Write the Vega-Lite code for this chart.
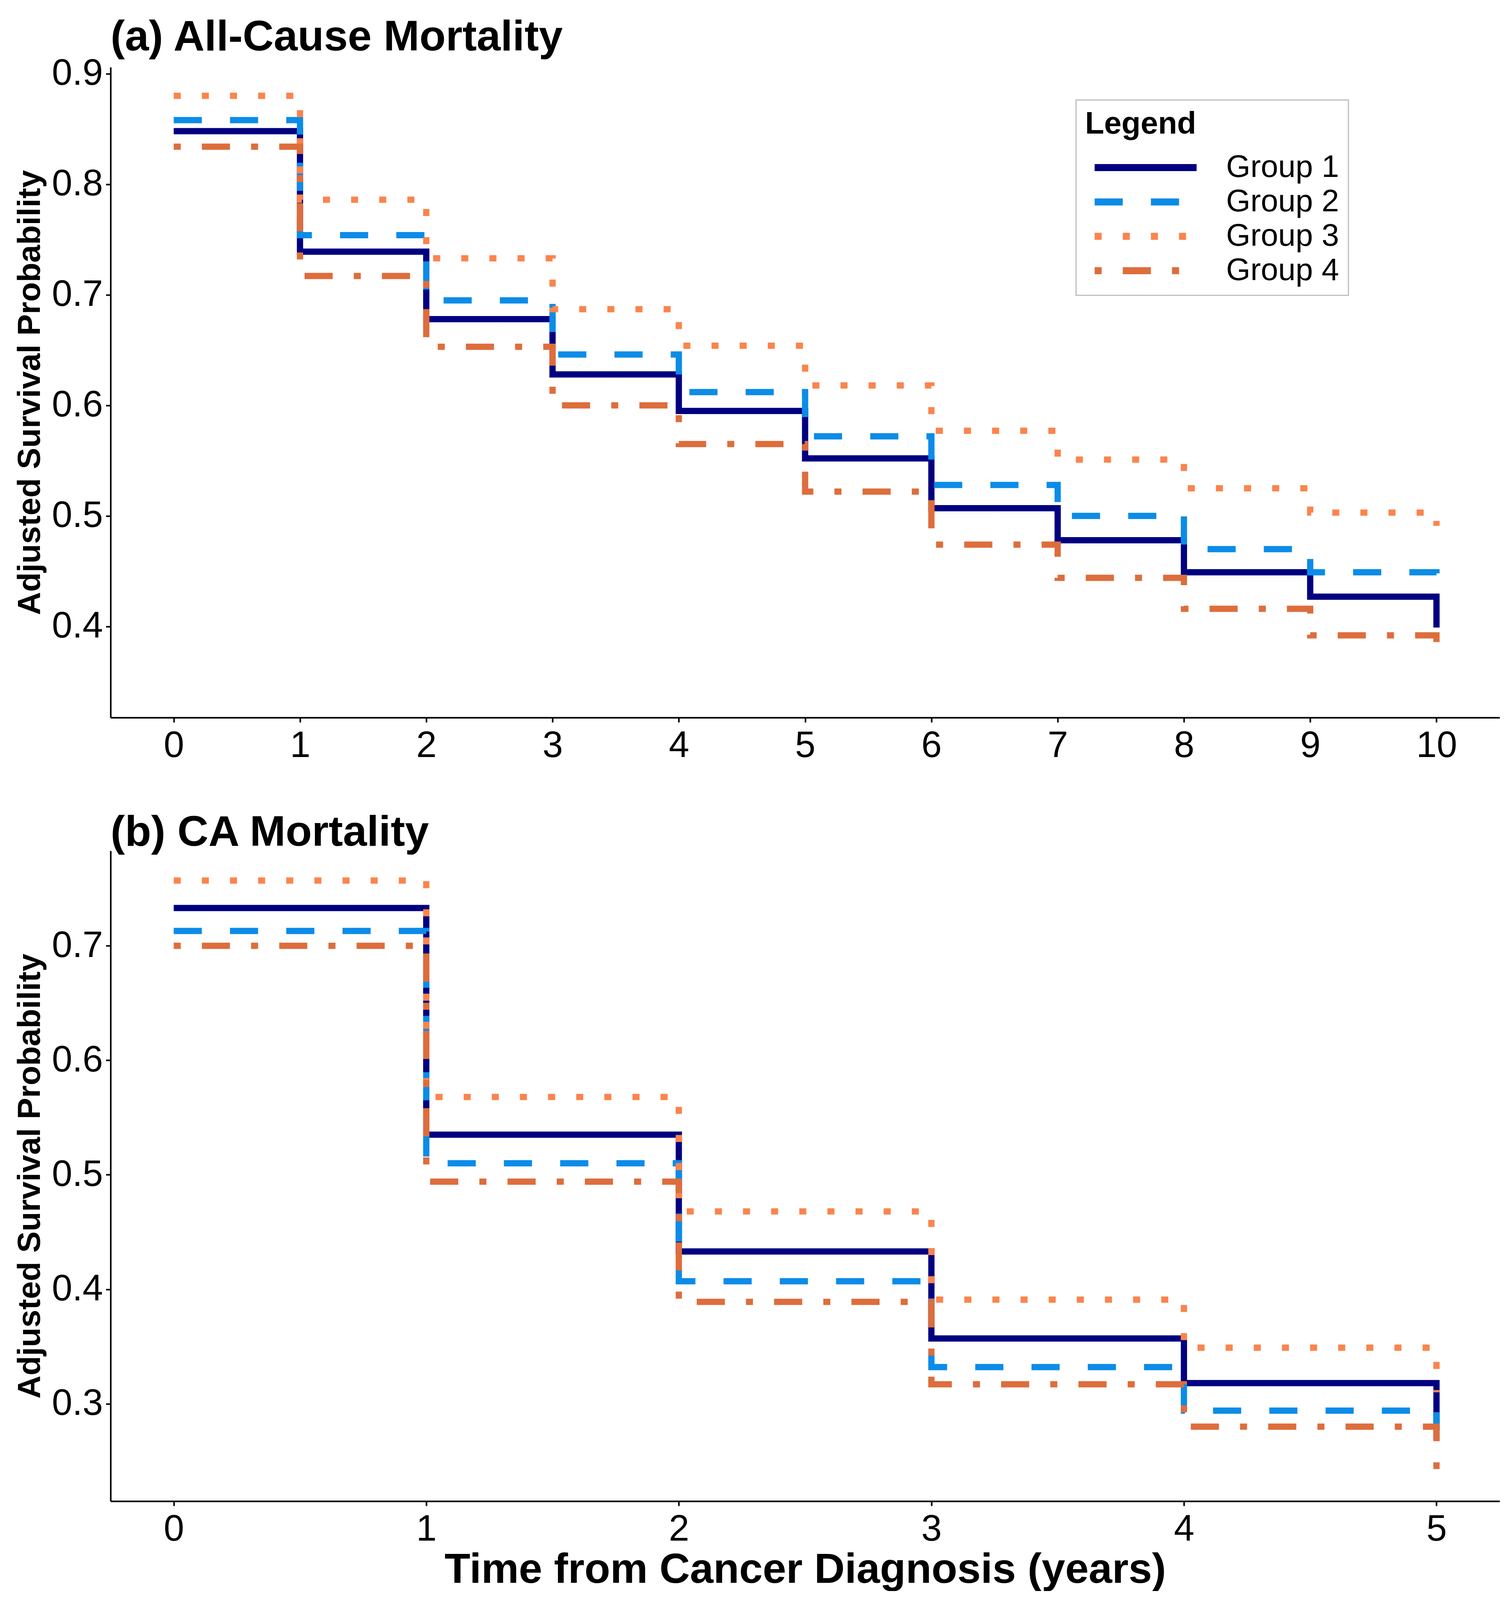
{
  "$schema": "https://vega.github.io/schema/vega-lite/v6.json",
  "background": "white",
  "padding": {"left": 35, "top": 40, "right": 10, "bottom": 0},
  "config": {
    "view": {"stroke": null},
    "font": "Liberation Sans",
    "axis": {"domainColor": "black", "domainWidth": 4, "tickColor": "black", "tickWidth": 4, "tickSize": 12, "grid": false, "labelColor": "black", "labelFont": "Liberation Sans", "labelFontSize": 94, "titleFont": "Liberation Sans", "titleFontSize": 82, "titleFontWeight": "bold", "titleColor": "black"},
    "axisX": {"labelPadding": 14, "titleFontSize": 108, "titlePadding": 4},
    "axisY": {"labelPadding": 8, "titlePadding": 14},
    "title": {"font": "Liberation Sans", "fontSize": 110, "fontWeight": "bold", "anchor": "start", "color": "black", "offset": -10, "frame": "group"}
  },
  "spacing": 121,
  "resolve": {"scale": {"x": "independent", "y": "independent"}, "legend": {"color": "independent", "strokeDash": "independent"}},
  "vconcat": [
    {
      "width": 3555,
      "height": 1665,
      "title": "(a) All-Cause Mortality",
      "data": {"values": [
        {"group": "Group 1", "time": 0, "surv": 0.848}, {"group": "Group 1", "time": 1, "surv": 0.739}, {"group": "Group 1", "time": 2, "surv": 0.678}, {"group": "Group 1", "time": 3, "surv": 0.628}, {"group": "Group 1", "time": 4, "surv": 0.595}, {"group": "Group 1", "time": 5, "surv": 0.552}, {"group": "Group 1", "time": 6, "surv": 0.507}, {"group": "Group 1", "time": 7, "surv": 0.478}, {"group": "Group 1", "time": 8, "surv": 0.449}, {"group": "Group 1", "time": 9, "surv": 0.427}, {"group": "Group 1", "time": 10, "surv": 0.399},
        {"group": "Group 2", "time": 0, "surv": 0.858}, {"group": "Group 2", "time": 1, "surv": 0.754}, {"group": "Group 2", "time": 2, "surv": 0.695}, {"group": "Group 2", "time": 3, "surv": 0.646}, {"group": "Group 2", "time": 4, "surv": 0.612}, {"group": "Group 2", "time": 5, "surv": 0.572}, {"group": "Group 2", "time": 6, "surv": 0.528}, {"group": "Group 2", "time": 7, "surv": 0.500}, {"group": "Group 2", "time": 8, "surv": 0.470}, {"group": "Group 2", "time": 9, "surv": 0.449}, {"group": "Group 2", "time": 10, "surv": 0.425},
        {"group": "Group 3", "time": 0, "surv": 0.880}, {"group": "Group 3", "time": 1, "surv": 0.786}, {"group": "Group 3", "time": 2, "surv": 0.733}, {"group": "Group 3", "time": 3, "surv": 0.687}, {"group": "Group 3", "time": 4, "surv": 0.654}, {"group": "Group 3", "time": 5, "surv": 0.618}, {"group": "Group 3", "time": 6, "surv": 0.577}, {"group": "Group 3", "time": 7, "surv": 0.551}, {"group": "Group 3", "time": 8, "surv": 0.525}, {"group": "Group 3", "time": 9, "surv": 0.503}, {"group": "Group 3", "time": 10, "surv": 0.491},
        {"group": "Group 4", "time": 0, "surv": 0.834}, {"group": "Group 4", "time": 1, "surv": 0.717}, {"group": "Group 4", "time": 2, "surv": 0.653}, {"group": "Group 4", "time": 3, "surv": 0.600}, {"group": "Group 4", "time": 4, "surv": 0.565}, {"group": "Group 4", "time": 5, "surv": 0.522}, {"group": "Group 4", "time": 6, "surv": 0.474}, {"group": "Group 4", "time": 7, "surv": 0.444}, {"group": "Group 4", "time": 8, "surv": 0.416}, {"group": "Group 4", "time": 9, "surv": 0.392}, {"group": "Group 4", "time": 10, "surv": 0.3675}
      ]},
      "mark": {"type": "line", "interpolate": "step-after", "strokeWidth": 16, "strokeCap": "butt"},
      "encoding": {
        "x": {"field": "time", "type": "quantitative", "scale": {"domain": [-0.5, 10.5], "nice": false, "zero": false}, "axis": {"values": [0, 1, 2, 3, 4, 5, 6, 7, 8, 9, 10], "format": "d", "title": null}},
        "y": {"field": "surv", "type": "quantitative", "scale": {"domain": [0.3176, 0.9059], "nice": false, "zero": false}, "axis": {"values": [0.4, 0.5, 0.6, 0.7, 0.8, 0.9], "format": ".1f", "title": "Adjusted Survival Probability"}},
        "color": {"field": "group", "type": "nominal", "scale": {"domain": ["Group 1", "Group 2", "Group 3", "Group 4"], "range": ["#000080", "#0b8ce8", "#fb844c", "#de6d3c"]},
          "legend": {"title": "Legend", "orient": "none", "legendX": 2471, "legendY": 84, "direction": "vertical", "symbolType": "M-4.35,0H4.35", "symbolSize": 3600, "symbolStrokeWidth": 18, "symbolOffset": 115, "labelOffset": 166, "labelFontSize": 80, "labelFont": "Liberation Sans", "labelColor": "black", "labelLimit": 0, "titleLimit": 0, "titleFontSize": 80, "titleFont": "Liberation Sans", "titleFontWeight": "bold", "titleColor": "black", "titlePadding": 30, "rowPadding": 8, "padding": 23, "strokeColor": "#bdbdbd", "fillColor": "white", "encode": {"legend": {"update": {"strokeWidth": {"value": 3}}}}}},
        "strokeDash": {"field": "group", "type": "nominal", "scale": {"domain": ["Group 1", "Group 2", "Group 3", "Group 4"], "range": [[1, 0], [72, 72], [18, 54], [18, 54, 72, 54]]},
          "legend": {"title": "Legend", "orient": "none", "legendX": 2471, "legendY": 84, "direction": "vertical", "symbolType": "M-4.35,0H4.35", "symbolSize": 3600, "symbolStrokeWidth": 18, "symbolOffset": 115, "labelOffset": 166, "labelFontSize": 80, "labelFont": "Liberation Sans", "labelColor": "black", "labelLimit": 0, "titleLimit": 0, "titleFontSize": 80, "titleFont": "Liberation Sans", "titleFontWeight": "bold", "titleColor": "black", "titlePadding": 30, "rowPadding": 8, "padding": 23, "strokeColor": "#bdbdbd", "fillColor": "white", "encode": {"legend": {"update": {"strokeWidth": {"value": 3}}}}}}
      }
    },
    {
      "width": 3555,
      "height": 1665,
      "title": "(b) CA Mortality",
      "data": {"values": [
        {"group": "Group 1", "time": 0, "surv": 0.733}, {"group": "Group 1", "time": 1, "surv": 0.535}, {"group": "Group 1", "time": 2, "surv": 0.433}, {"group": "Group 1", "time": 3, "surv": 0.357}, {"group": "Group 1", "time": 4, "surv": 0.318}, {"group": "Group 1", "time": 5, "surv": 0.277},
        {"group": "Group 2", "time": 0, "surv": 0.713}, {"group": "Group 2", "time": 1, "surv": 0.510}, {"group": "Group 2", "time": 2, "surv": 0.407}, {"group": "Group 2", "time": 3, "surv": 0.332}, {"group": "Group 2", "time": 4, "surv": 0.294}, {"group": "Group 2", "time": 5, "surv": 0.254},
        {"group": "Group 3", "time": 0, "surv": 0.757}, {"group": "Group 3", "time": 1, "surv": 0.568}, {"group": "Group 3", "time": 2, "surv": 0.468}, {"group": "Group 3", "time": 3, "surv": 0.391}, {"group": "Group 3", "time": 4, "surv": 0.349}, {"group": "Group 3", "time": 5, "surv": 0.31},
        {"group": "Group 4", "time": 0, "surv": 0.700}, {"group": "Group 4", "time": 1, "surv": 0.494}, {"group": "Group 4", "time": 2, "surv": 0.389}, {"group": "Group 4", "time": 3, "surv": 0.317}, {"group": "Group 4", "time": 4, "surv": 0.280}, {"group": "Group 4", "time": 5, "surv": 0.243}
      ]},
      "mark": {"type": "line", "interpolate": "step-after", "strokeWidth": 16, "strokeCap": "butt"},
      "encoding": {
        "x": {"field": "time", "type": "quantitative", "scale": {"domain": [-0.25, 5.25], "nice": false, "zero": false}, "axis": {"values": [0, 1, 2, 3, 4, 5], "format": "d", "title": "Time from Cancer Diagnosis (years)"}},
        "y": {"field": "surv", "type": "quantitative", "scale": {"domain": [0.2149, 0.783], "nice": false, "zero": false}, "axis": {"values": [0.3, 0.4, 0.5, 0.6, 0.7], "format": ".1f", "title": "Adjusted Survival Probability"}},
        "color": {"field": "group", "type": "nominal", "scale": {"domain": ["Group 1", "Group 2", "Group 3", "Group 4"], "range": ["#000080", "#0b8ce8", "#fb844c", "#de6d3c"]}, "legend": null},
        "strokeDash": {"field": "group", "type": "nominal", "scale": {"domain": ["Group 1", "Group 2", "Group 3", "Group 4"], "range": [[1, 0], [72, 72], [18, 54], [18, 54, 72, 54]]}, "legend": null}
      }
    }
  ]
}
